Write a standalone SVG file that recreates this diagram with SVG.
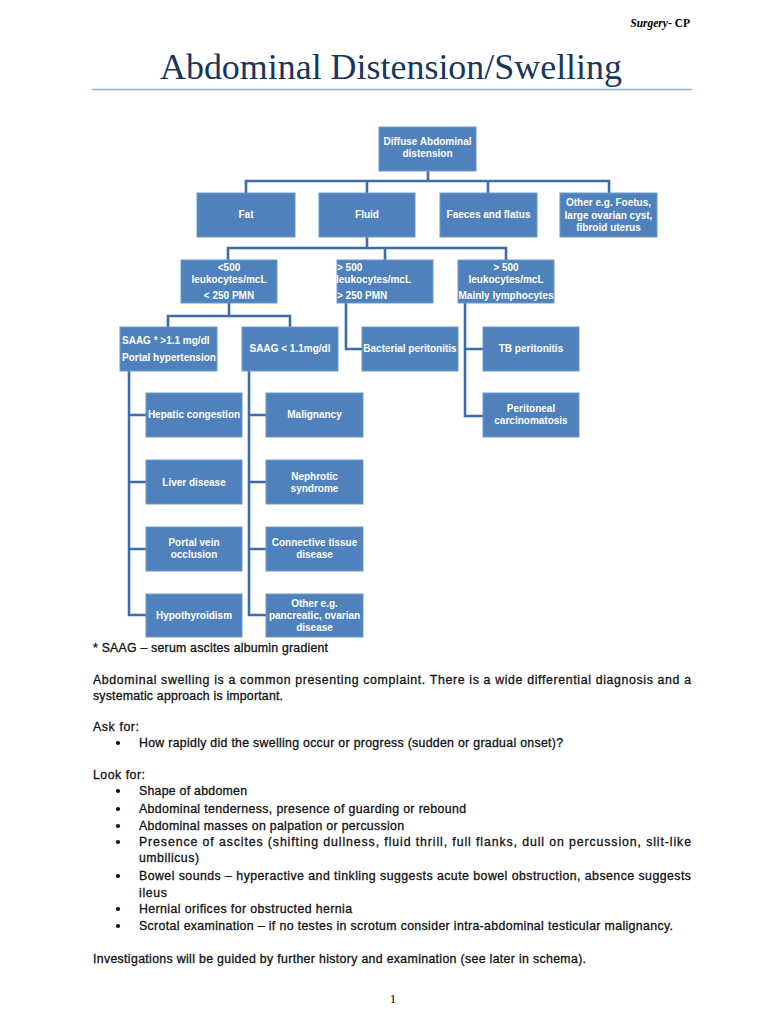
<svg xmlns="http://www.w3.org/2000/svg" width="768" height="1024" viewBox="0 0 768 1024">
<style>
.box{fill:#4F81BD;stroke:#6F98CB;stroke-width:1}
.bt{font-family:"Liberation Sans",Arial,sans-serif;font-weight:bold;font-size:10px;fill:#fff;text-anchor:middle}
.bl{font-family:"Liberation Sans",Arial,sans-serif;font-weight:bold;font-size:10px;fill:#fff}
.con{fill:none;stroke:#3E6CA8;stroke-width:2.6}
.body{font-family:"Liberation Sans",Arial,sans-serif;font-size:12.3px;fill:#111;stroke:#111;stroke-width:0.3}
.bul{fill:#111}
</style>
<rect width="768" height="1024" fill="#fff"/>
<text x="690" y="27" text-anchor="end" font-family="Liberation Serif,serif" font-size="11.5" font-weight="bold" fill="#000"><tspan font-style="italic">Surgery</tspan>- CP</text>
<text x="160" y="79" font-family="Liberation Serif,serif" font-size="35" fill="#17365D" textLength="462" lengthAdjust="spacingAndGlyphs">Abdominal Distension/Swelling</text>
<line x1="92" y1="89.5" x2="692" y2="89.5" stroke="#95B3D7" stroke-width="1.5"/>

<g id="connectors">
<path class="con" d="M428 171V181M246 193V181H609V193M367 181V193M488 181V193"/>
<path class="con" d="M367 237V248M228 260V248H506V260M385 248V260"/>
<path class="con" d="M229 303V316M168 327V316H290V327"/>
<path class="con" d="M346 303V349H362"/>
<path class="con" d="M465 303V416H483M465 349H483"/>
<path class="con" d="M129 371V615H146M129 415H146M129 482H146M129 549H146"/>
<path class="con" d="M249 371V615H266M249 415H266M249 482H266M249 549H266"/>
</g>

<g id="root"><rect class="box" x="379" y="127" width="97" height="44"/><text class="bt" x="427.5" y="145">Diffuse Abdominal</text><text class="bt" x="427.5" y="157">distension</text></g>
<g id="fat"><rect class="box" x="197" y="193" width="98" height="44"/><text class="bt" x="246" y="218">Fat</text></g>
<g id="fluid"><rect class="box" x="319" y="193" width="96" height="44"/><text class="bt" x="367" y="218">Fluid</text></g>
<g id="faeces"><rect class="box" x="440" y="193" width="97" height="44"/><text class="bt" x="488.5" y="218">Faeces and flatus</text></g>
<g id="other"><rect class="box" x="560" y="193" width="97" height="44"/><text class="bt" x="608.5" y="206">Other e.g. Foetus,</text><text class="bt" x="608.5" y="218.5">large ovarian cyst,</text><text class="bt" x="608.5" y="231">fibroid uterus</text></g>

<g id="low-wbc"><rect class="box" x="181" y="260" width="96" height="43"/><text class="bt" x="229" y="271">&lt;500</text><text class="bt" x="229" y="283">leukocytes/mcL</text><text class="bt" x="229" y="299">&lt; 250 PMN</text></g>
<g id="high-pmn"><rect class="box" x="337" y="260" width="96" height="43"/><text class="bl" x="337" y="271">&gt; 500</text><text class="bl" x="336" y="283">leukocytes/mcL</text><text class="bl" x="337" y="299">&gt; 250 PMN</text></g>
<g id="high-lymph"><rect class="box" x="458" y="260" width="96" height="43"/><text class="bt" x="506" y="271">&gt; 500</text><text class="bt" x="506" y="283">leukocytes/mcL</text><text class="bt" x="506" y="299">Mainly lymphocytes</text></g>

<g id="saag-high"><rect class="box" x="120" y="327" width="97" height="44"/><text class="bl" x="122" y="344">SAAG * &gt;1.1 mg/dl</text><text class="bl" x="122" y="361">Portal hypertension</text></g>
<g id="saag-low"><rect class="box" x="242" y="327" width="96" height="44"/><text class="bt" x="290" y="352">SAAG &lt; 1.1mg/dl</text></g>
<g id="bacterial"><rect class="box" x="362" y="327" width="96" height="44"/><text class="bt" x="410" y="352">Bacterial peritonitis</text></g>
<g id="tb"><rect class="box" x="483" y="327" width="96" height="44"/><text class="bt" x="531" y="352">TB peritonitis</text></g>
<g id="carcinomatosis"><rect class="box" x="483" y="393" width="96" height="44"/><text class="bt" x="531" y="412">Peritoneal</text><text class="bt" x="531" y="424">carcinomatosis</text></g>

<g id="hepatic"><rect class="box" x="146" y="393" width="96" height="44"/><text class="bt" x="194" y="418">Hepatic congestion</text></g>
<g id="liver"><rect class="box" x="146" y="460" width="96" height="44"/><text class="bt" x="194" y="485.5">Liver disease</text></g>
<g id="portal"><rect class="box" x="146" y="527" width="96" height="44"/><text class="bt" x="194" y="546">Portal vein</text><text class="bt" x="194" y="558">occlusion</text></g>
<g id="hypothyroidism"><rect class="box" x="146" y="594" width="96" height="43"/><text class="bt" x="194" y="619">Hypothyroidism</text></g>

<g id="malignancy"><rect class="box" x="266" y="393" width="97" height="44"/><text class="bt" x="314.5" y="418">Malignancy</text></g>
<g id="nephrotic"><rect class="box" x="266" y="460" width="97" height="44"/><text class="bt" x="314.5" y="479.5">Nephrotic</text><text class="bt" x="314.5" y="491.5">syndrome</text></g>
<g id="connective"><rect class="box" x="266" y="527" width="97" height="44"/><text class="bt" x="314.5" y="546">Connective tissue</text><text class="bt" x="314.5" y="558">disease</text></g>
<g id="other-low"><rect class="box" x="266" y="594" width="97" height="43"/><text class="bt" x="314.5" y="607">Other e.g.</text><text class="bt" x="314.5" y="619">pancreatic, ovarian</text><text class="bt" x="314.5" y="631">disease</text></g>

<g id="text">
<text class="body" x="93" y="652" textLength="235" lengthAdjust="spacing">* SAAG – serum ascites albumin gradient</text>
<text class="body" x="93" y="684" textLength="598" lengthAdjust="spacing">Abdominal swelling is a common presenting complaint.  There is a wide differential diagnosis and a</text>
<text class="body" x="93" y="700" textLength="190" lengthAdjust="spacing">systematic approach is important.</text>
<text class="body" x="93" y="731" textLength="46" lengthAdjust="spacing">Ask for:</text>
<circle class="bul" cx="118" cy="743" r="2.1"/>
<text class="body" x="139" y="747" textLength="424" lengthAdjust="spacing">How rapidly did the swelling occur or progress (sudden or gradual onset)?</text>
<text class="body" x="93" y="779" textLength="52" lengthAdjust="spacing">Look for:</text>
<circle class="bul" cx="118" cy="791" r="2.1"/>
<text class="body" x="139" y="795" textLength="108" lengthAdjust="spacing">Shape of abdomen</text>
<circle class="bul" cx="118" cy="809" r="2.1"/>
<text class="body" x="139" y="813" textLength="327" lengthAdjust="spacing">Abdominal tenderness, presence of guarding or rebound</text>
<circle class="bul" cx="118" cy="826" r="2.1"/>
<text class="body" x="139" y="830" textLength="265" lengthAdjust="spacing">Abdominal masses on palpation or percussion</text>
<circle class="bul" cx="118" cy="842" r="2.1"/>
<text class="body" x="139" y="846" textLength="552" lengthAdjust="spacing">Presence of ascites (shifting dullness, fluid thrill, full flanks, dull on percussion, slit-like</text>
<text class="body" x="139" y="862" textLength="60" lengthAdjust="spacing">umbilicus)</text>
<circle class="bul" cx="118" cy="876" r="2.1"/>
<text class="body" x="139" y="880" textLength="552" lengthAdjust="spacing">Bowel sounds – hyperactive and tinkling suggests acute bowel obstruction, absence suggests</text>
<text class="body" x="139" y="897" textLength="28" lengthAdjust="spacing">ileus</text>
<circle class="bul" cx="118" cy="909" r="2.1"/>
<text class="body" x="139" y="913" textLength="213" lengthAdjust="spacing">Hernial orifices for obstructed hernia</text>
<circle class="bul" cx="118" cy="926" r="2.1"/>
<text class="body" x="139" y="930" textLength="534" lengthAdjust="spacing">Scrotal examination – if no testes in scrotum consider intra-abdominal testicular malignancy.</text>
<text class="body" x="93" y="963" textLength="493" lengthAdjust="spacing">Investigations will be guided by further history and examination (see later in schema).</text>
<text x="393" y="1003" text-anchor="middle" font-family="Liberation Serif,serif" font-size="13" fill="#000">1</text>
</g>
</svg>
